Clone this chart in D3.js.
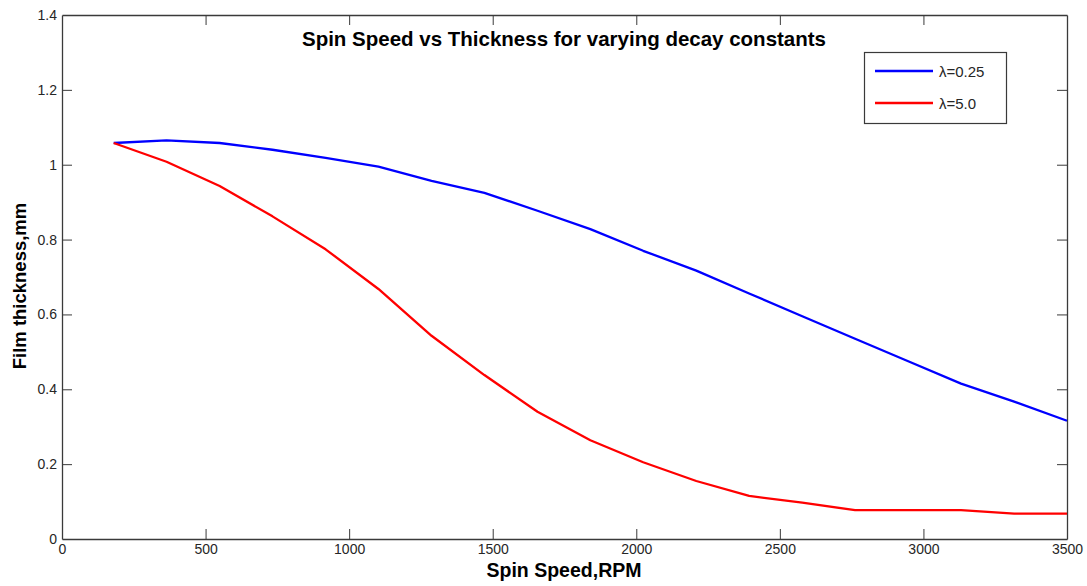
<!DOCTYPE html>
<html>
<head>
<meta charset="utf-8">
<script src="https://cdn.jsdelivr.net/npm/d3@7"></script>
<style>
  html, body { margin: 0; padding: 0; background: #fff; }
  svg { display: block; font-family: "Liberation Sans", Arial, sans-serif; }
</style>
</head>
<body>
<svg id="chart" width="1087" height="586"></svg>
<script>
// ---- data ----
const rpm = [180, 364, 549, 733, 918, 1102, 1287, 1471, 1656, 1840, 2024, 2209, 2393, 2578, 2762, 2947, 3131, 3316, 3500];
const thicknessLambda025 = [1.058, 1.065, 1.058, 1.040, 1.018, 0.995, 0.957, 0.925, 0.877, 0.828, 0.770, 0.717, 0.656, 0.595, 0.535, 0.475, 0.415, 0.367, 0.316];
const thicknessLambda5 = [1.058, 1.008, 0.943, 0.862, 0.774, 0.668, 0.543, 0.438, 0.340, 0.264, 0.205, 0.155, 0.115, 0.097, 0.077, 0.077, 0.077, 0.068, 0.068];
const seriesNames = ["\u03bb=0.25", "\u03bb=5.0"];
const seriesColors = ["#0000ff", "#ff0000"];
const xTicks = [0, 500, 1000, 1500, 2000, 2500, 3000, 3500];
const yTicks = [0, 0.2, 0.4, 0.6, 0.8, 1, 1.2, 1.4];
const titleText = "Spin Speed vs Thickness for varying decay constants";
const xLabel = "Spin Speed,RPM";
const yLabel = "Film thickness,mm";

// ---- layout ----
const L = 62, R = 1067, T = 15, B = 539;
const svg = d3.select("#chart");
const x = d3.scaleLinear().domain([0, 3500]).range([L, R]);
const y = d3.scaleLinear().domain([0, 1.4]).range([B, T]);
const tickLen = 10;
const axisColor = "#3a3a3a";

const fmtY = d => d3.format("~g")(d);
const gBottom = svg.append("g").attr("transform", `translate(0,${B})`)
  .call(d3.axisBottom(x).tickValues(xTicks).tickSizeInner(-tickLen).tickSizeOuter(0).tickPadding(5).tickFormat(d3.format("d")));
const gTop = svg.append("g").attr("transform", `translate(0,${T})`)
  .call(d3.axisTop(x).tickValues(xTicks).tickSizeInner(-tickLen).tickSizeOuter(0).tickFormat(""));
const gLeft = svg.append("g").attr("transform", `translate(${L},0)`)
  .call(d3.axisLeft(y).tickValues(yTicks).tickSizeInner(-tickLen).tickSizeOuter(0).tickPadding(5).tickFormat(fmtY));
const gRight = svg.append("g").attr("transform", `translate(${R},0)`)
  .call(d3.axisRight(y).tickValues(yTicks).tickSizeInner(-tickLen).tickSizeOuter(0).tickFormat(""));

[gBottom, gTop, gLeft, gRight].forEach(g => {
  g.select(".domain").attr("stroke", axisColor).attr("stroke-width", 1.3);
  g.selectAll(".tick line").attr("stroke", axisColor).attr("stroke-width", 1);
  g.selectAll(".tick text").attr("fill", "#262626").style("font-size", "14px")
    .style("font-family", "'Liberation Sans', Arial, sans-serif");
});
gTop.selectAll(".tick").filter(d => d === 0 || d === 3500).select("line").remove();
gBottom.selectAll(".tick").filter(d => d === 0 || d === 3500).select("line").remove();
gLeft.selectAll(".tick").filter(d => d === 0 || d === 1.4).select("line").remove();
gRight.selectAll(".tick").filter(d => d === 0 || d === 1.4).select("line").remove();

// ---- lines ----
const series = [thicknessLambda025, thicknessLambda5];
const line = d3.line().x((d, i) => x(rpm[i])).y(d => y(d));
series.forEach((vals, k) => {
  svg.append("path").datum(vals)
    .attr("fill", "none").attr("stroke", seriesColors[k]).attr("stroke-width", 2.3)
    .attr("stroke-linejoin", "round").attr("d", line);
});

// ---- title & labels ----
svg.append("text").attr("x", 564).attr("y", 46).attr("text-anchor", "middle")
  .style("font-weight", "bold").style("font-size", "20.5px").attr("fill", "#000").text(titleText);
svg.append("text").attr("x", 564).attr("y", 577).attr("text-anchor", "middle")
  .style("font-weight", "bold").style("font-size", "19.5px").attr("fill", "#000").text(xLabel);
svg.append("text").attr("transform", "translate(26,286) rotate(-90)").attr("text-anchor", "middle")
  .style("font-weight", "bold").style("font-size", "18.5px").attr("fill", "#000").text(yLabel);

// ---- legend ----
const lg = svg.append("g");
lg.append("rect").attr("x", 864.5).attr("y", 52.5).attr("width", 142).attr("height", 71)
  .attr("fill", "#fff").attr("stroke", axisColor).attr("stroke-width", 1.2);
seriesNames.forEach((name, k) => {
  const yy = 72 + k * 32;
  lg.append("line").attr("x1", 875).attr("x2", 933).attr("y1", yy - 1).attr("y2", yy - 1)
    .attr("stroke", seriesColors[k]).attr("stroke-width", 2.3);
  lg.append("text").attr("x", 939).attr("y", yy).attr("dy", "0.36em")
    .style("font-size", "15px").attr("fill", "#262626").text(name);
});
</script>
</body>
</html>
